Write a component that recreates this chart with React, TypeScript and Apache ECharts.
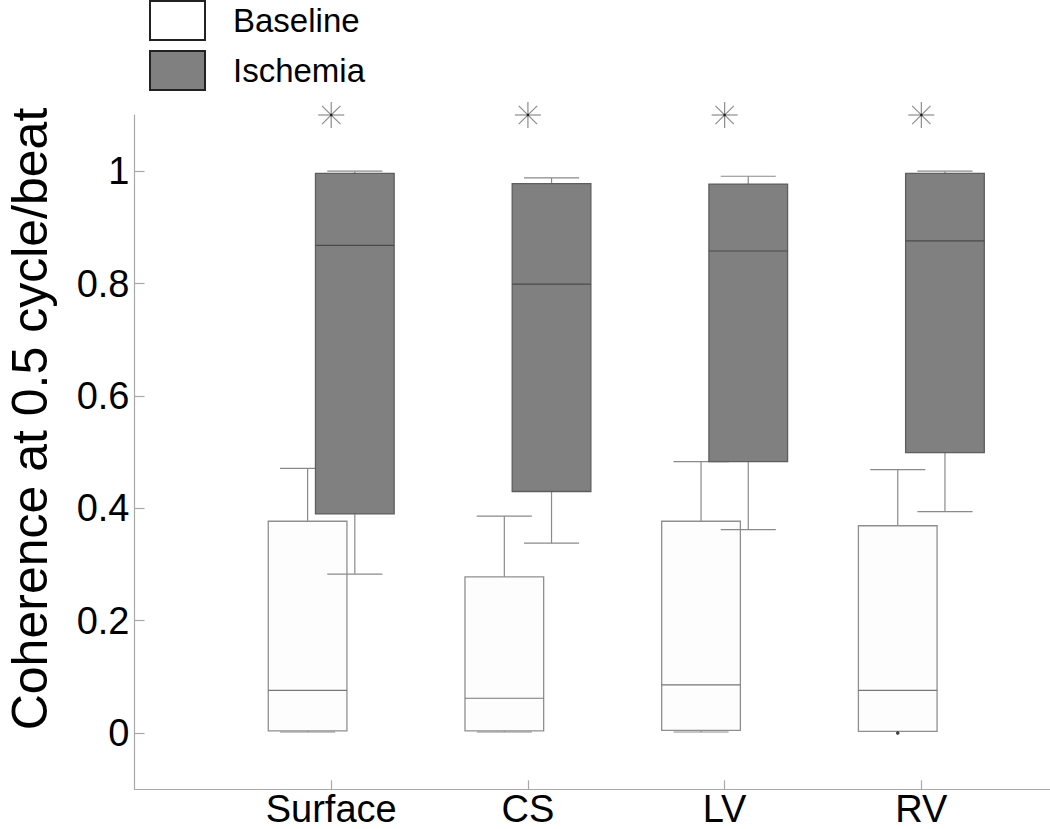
import React, { useEffect, useRef } from "react";
import * as echarts from "echarts";

const categories = ["Surface", "CS", "LV", "RV"];
// [low whisker, q1, median, q3, high whisker]
const baselineStats = [
  [0.002, 0.004, 0.076, 0.377, 0.471],
  [0.002, 0.004, 0.062, 0.278, 0.386],
  [0.002, 0.005, 0.086, 0.377, 0.483],
  [0.003, 0.003, 0.076, 0.369, 0.469],
];
const ischemiaStats = [
  [0.283, 0.390, 0.868, 0.996, 1.0],
  [0.338, 0.430, 0.799, 0.978, 0.988],
  [0.362, 0.483, 0.858, 0.977, 0.991],
  [0.394, 0.499, 0.876, 0.996, 1.0],
];
// outliers: [category index (1-based), value]
const baselineOutliers = [[4, 0.0]];
const starLevel = 1.1;
const yTicks = [0, 0.2, 0.4, 0.6, 0.8, 1];
const xTicks = [1, 2, 3, 4];

const FONT = "Liberation Sans, Arial, sans-serif";

function makeBoxRender(offset: number, style: any) {
  return (params: any, api: any) => {
    const x = api.value(0) + offset;
    const low = api.value(1), q1 = api.value(2), med = api.value(3), q3 = api.value(4), high = api.value(5);
    const boxW = api.size([0.4, 0])[0];
    const capW = api.size([0.28, 0])[0];
    const pLow = api.coord([x, low]);
    const pQ1 = api.coord([x, q1]);
    const pMed = api.coord([x, med]);
    const pQ3 = api.coord([x, q3]);
    const pHigh = api.coord([x, high]);
    const cx = pMed[0];
    const line = (x1: number, y1: number, x2: number, y2: number, stroke: string) => ({
      type: "line",
      shape: { x1, y1, x2, y2 },
      style: { stroke, lineWidth: 1.2 },
    });
    return {
      type: "group",
      children: [
        line(cx, pHigh[1], cx, pQ3[1], style.whisker),
        line(cx - capW / 2, pHigh[1], cx + capW / 2, pHigh[1], style.whisker),
        line(cx, pQ1[1], cx, pLow[1], style.whisker),
        line(cx - capW / 2, pLow[1], cx + capW / 2, pLow[1], style.whisker),
        {
          type: "rect",
          shape: { x: cx - boxW / 2, y: pQ3[1], width: boxW, height: pQ1[1] - pQ3[1] },
          style: { fill: style.fill, stroke: style.border, lineWidth: 1.3 },
        },
        line(cx - boxW / 2, pMed[1], cx + boxW / 2, pMed[1], style.median),
      ],
    };
  };
}

function starRender(params: any, api: any) {
  const p = api.coord([api.value(0), api.value(1)]);
  const r = 13;
  const d = r * Math.SQRT1_2;
  const mk = (x1: number, y1: number, x2: number, y2: number) => ({
    type: "line",
    shape: { x1: p[0] + x1, y1: p[1] + y1, x2: p[0] + x2, y2: p[1] + y2 },
    style: { stroke: "#8c8c8c", lineWidth: 1.2 },
  });
  return {
    type: "group",
    children: [
      mk(-r, 0, r, 0),
      mk(0, -r, 0, r),
      mk(-d, -d, d, d),
      mk(-d, d, d, -d),
      { type: "circle", shape: { cx: p[0], cy: p[1], r: 1.3 }, style: { fill: "#222" } },
    ],
  };
}

export default function App() {
  const ref = useRef<HTMLDivElement>(null);
  useEffect(() => {
    if (!ref.current) return;
    const chart = echarts.init(ref.current, null, { renderer: "svg" });
    const baselineData = baselineStats.map((s, i) => [i + 1, ...s]);
    const ischemiaData = ischemiaStats.map((s, i) => [i + 1, ...s]);
    const starData = xTicks.map((x) => [x, starLevel]);
    chart.setOption({
      animation: false,
      backgroundColor: "#ffffff",
      textStyle: { fontFamily: FONT },
      grid: { left: 134.5, right: 0, top: 115, bottom: 39.7, containLabel: false },
      legend: {
        orient: "vertical",
        left: 149,
        top: 0,
        padding: 0,
        itemWidth: 55,
        itemHeight: 39,
        itemGap: 9,
        icon: "rect",
        selectedMode: false,
        textStyle: { fontSize: 33, color: "#000", fontFamily: FONT, padding: [0, 0, 0, 23] },
        data: [
          { name: "Baseline", itemStyle: { color: "#ffffff", borderColor: "#222", borderWidth: 2 } },
          { name: "Ischemia", itemStyle: { color: "#808080", borderColor: "#222", borderWidth: 2 } },
        ],
      },
      xAxis: {
        type: "value",
        min: 0,
        max: 4.654,
        splitLine: { show: false },
        axisLine: { show: true, onZero: false, lineStyle: { color: "#a8a8a8", width: 1.2 } },
        axisTick: { show: true, inside: true, length: 9, customValues: xTicks, lineStyle: { color: "#a8a8a8", width: 1.2 } },
        axisLabel: {
          customValues: xTicks,
          formatter: (v: number) => categories[Math.round(v) - 1] ?? "",
          fontSize: 38,
          color: "#000",
          fontFamily: FONT,
          margin: 1,
        },
      },
      yAxis: {
        type: "value",
        min: -0.1,
        max: 1.1,
        splitLine: { show: false },
        axisLine: { show: true, onZero: false, lineStyle: { color: "#a8a8a8", width: 1.2 } },
        axisTick: { show: true, inside: true, length: 10, customValues: yTicks, lineStyle: { color: "#a8a8a8", width: 1.2 } },
        axisLabel: {
          customValues: yTicks,
          formatter: (v: number) => String(Math.round(v * 10) / 10),
          fontSize: 38,
          color: "#000",
          fontFamily: FONT,
          margin: 5,
        },
      },
      graphic: [
        {
          type: "text",
          x: 30,
          y: 419,
          rotation: Math.PI / 2,
          style: {
            text: "Coherence at 0.5 cycle/beat",
            fontSize: 50,
            fontFamily: FONT,
            fill: "#000",
            textAlign: "center",
            textVerticalAlign: "middle",
          },
        },
      ],
      series: [
        {
          name: "Baseline",
          type: "custom",
          renderItem: makeBoxRender(-0.12, { fill: "#fdfdfd", border: "#8f8f8f", whisker: "#8a8a8a", median: "#777" }),
          itemStyle: { color: "#ffffff" },
          encode: { x: 0, y: [1, 2, 3, 4, 5] },
          data: baselineData,
          z: 2,
        },
        {
          name: "Baseline",
          type: "scatter",
          symbol: "circle",
          symbolSize: 3.5,
          itemStyle: { color: "#111" },
          data: baselineOutliers.map(([x, v]) => [x - 0.12, v]),
          z: 3,
        },
        {
          name: "Ischemia",
          type: "custom",
          renderItem: makeBoxRender(0.12, { fill: "#808080", border: "#5e5e5e", whisker: "#8a8a8a", median: "#4a4a4a" }),
          itemStyle: { color: "#808080" },
          encode: { x: 0, y: [1, 2, 3, 4, 5] },
          data: ischemiaData,
          z: 4,
        },
        {
          name: "Significance",
          type: "custom",
          renderItem: starRender,
          encode: { x: 0, y: 1 },
          data: starData,
          z: 5,
        },
      ],
    });
    return () => chart.dispose();
  }, []);
  return <div ref={ref} style={{ position: "absolute", left: 0, top: 0, width: 1050, height: 829 }} />;
}
